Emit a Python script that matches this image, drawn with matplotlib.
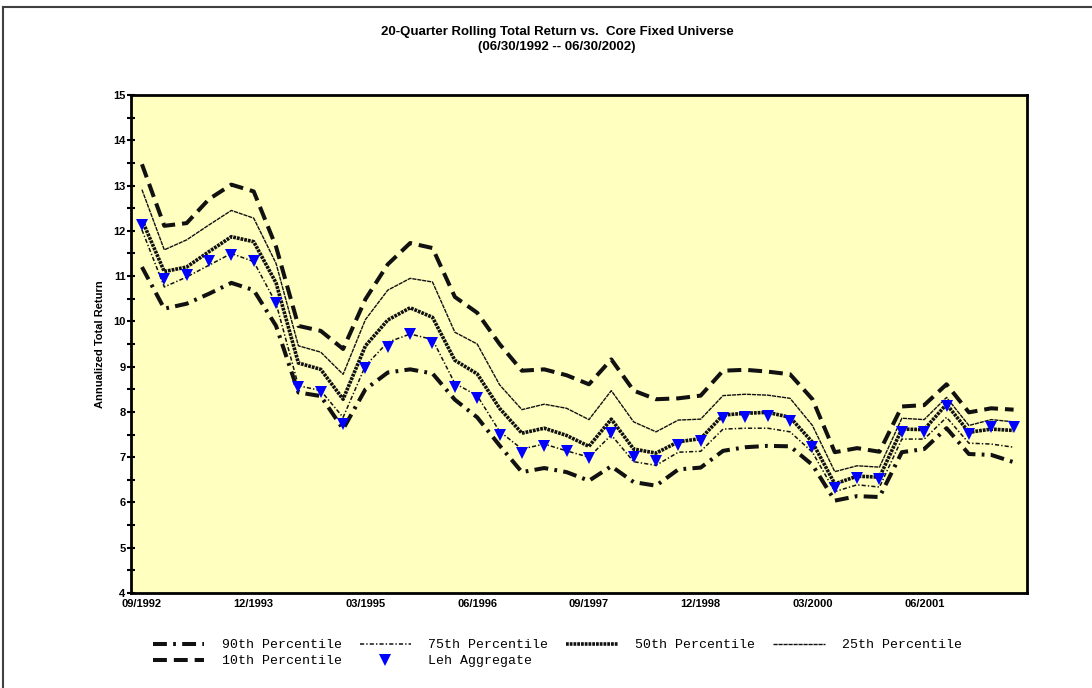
import numpy as np
import matplotlib
matplotlib.use("Agg")
import matplotlib.pyplot as plt
from matplotlib.lines import Line2D
from matplotlib.ticker import MultipleLocator

# Data (quarterly, 09/1992 .. 06/2002)
tick_labels = ["09/1992", "12/1993", "03/1995", "06/1996",
               "09/1997", "12/1998", "03/2000", "06/2001"]

p10 = [13.47, 12.11, 12.17, 12.70, 13.02, 12.87, 11.65, 9.90, 9.79, 9.39,
       10.49, 11.26, 11.73, 11.62, 10.54, 10.19, 9.50, 8.91, 8.94, 8.81,
       8.61, 9.16, 8.47, 8.28, 8.30, 8.36, 8.91, 8.93, 8.89, 8.83,
       8.28, 7.11, 7.20, 7.12, 8.12, 8.15, 8.61, 7.99, 8.08, 8.05]

p25 = [12.91, 11.58, 11.80, 12.13, 12.45, 12.28, 11.28, 9.46, 9.32, 8.83,
       10.04, 10.69, 10.95, 10.87, 9.76, 9.50, 8.60, 8.05, 8.17, 8.08,
       7.83, 8.47, 7.78, 7.56, 7.82, 7.84, 8.36, 8.39, 8.37, 8.30,
       7.70, 6.68, 6.81, 6.78, 7.86, 7.83, 8.32, 7.70, 7.83, 7.78]

p50 = [12.24, 11.10, 11.20, 11.54, 11.87, 11.76, 10.85, 9.08, 8.94, 8.28,
       9.46, 10.03, 10.30, 10.09, 9.14, 8.84, 8.08, 7.53, 7.64, 7.48,
       7.24, 7.84, 7.18, 7.09, 7.34, 7.41, 7.93, 7.97, 7.99, 7.88,
       7.33, 6.41, 6.58, 6.56, 7.62, 7.61, 8.17, 7.55, 7.62, 7.59]

p75 = [12.02, 10.76, 10.98, 11.24, 11.50, 11.32, 10.40, 8.58, 8.47, 7.88,
       9.02, 9.54, 9.72, 9.60, 8.63, 8.36, 7.57, 7.18, 7.29, 7.14,
       7.00, 7.49, 6.90, 6.82, 7.11, 7.13, 7.62, 7.64, 7.64, 7.56,
       7.11, 6.24, 6.39, 6.34, 7.40, 7.40, 7.88, 7.31, 7.29, 7.22]

p90 = [11.20, 10.28, 10.39, 10.61, 10.85, 10.69, 9.90, 8.43, 8.35, 7.62,
       8.50, 8.87, 8.94, 8.85, 8.27, 7.88, 7.26, 6.67, 6.76, 6.67,
       6.48, 6.80, 6.45, 6.37, 6.73, 6.77, 7.14, 7.22, 7.25, 7.24,
       6.83, 6.04, 6.14, 6.12, 7.11, 7.18, 7.64, 7.07, 7.05, 6.89]

leh = [12.13, 10.93, 11.02, 11.33, 11.47, 11.33, 10.41, 8.54, 8.43, 7.73,
       8.96, 9.44, 9.72, 9.53, 8.54, 8.30, 7.50, 7.09, 7.24, 7.14,
       6.98, 7.53, 7.00, 6.92, 7.28, 7.35, 7.86, 7.88, 7.90, 7.81,
       7.22, 6.32, 6.54, 6.52, 7.55, 7.55, 8.14, 7.51, 7.66, 7.66]

plt.rcParams["font.family"] = ["Liberation Sans", "DejaVu Sans"]
plt.rcParams["lines.scale_dashes"] = False

fig = plt.figure(figsize=(10.92, 6.88), dpi=100)
ax = fig.add_axes([131/1092, 1 - 593/688, (1027-131)/1092, (593-95)/688])
ax.set_facecolor("#FFFFC0")

x = np.arange(len(p10))

l90, = ax.plot(x, p90, color="#111111", lw=2.9,
               dashes=(10, 4.5, 2, 4.5), dash_capstyle="butt", label="90th Percentile")
l10, = ax.plot(x, p10, color="#111111", lw=2.9,
               dashes=(10, 5), dash_capstyle="butt", label="10th Percentile")
l75, = ax.plot(x, p75, color="#111111", lw=1.1,
               dashes=(3, 1.5, 1, 1.5), label="75th Percentile")
l50, = ax.plot(x, p50, color="#111111", lw=2.6,
               dashes=(2, 0.7), dash_capstyle="butt", label="50th Percentile")
l25, = ax.plot(x, p25, color="#111111", lw=1.0,
               dashes=(3, 0.6), label="25th Percentile")
lleh, = ax.plot(x, leh, linestyle="none", marker="v", ms=8.5,
                color="#0000FF", markeredgewidth=0, zorder=5, label="Leh Aggregate")

# Axes formatting
ax.set_xlim(-0.49, 39.6)
ax.set_ylim(4, 15)
ax.set_xticks(np.arange(0, 40, 5))
ax.set_xticklabels(tick_labels)
ax.yaxis.set_major_locator(MultipleLocator(1))
ax.yaxis.set_minor_locator(MultipleLocator(0.5))
ax.tick_params(axis="x", length=0, pad=4, labelsize=8)
ax.tick_params(axis="y", which="both", direction="inout", length=6, width=1.5,
               pad=1, labelsize=8)
for lab in ax.get_xticklabels() + ax.get_yticklabels():
    lab.set_fontweight("bold")
for s in ax.spines.values():
    s.set_linewidth(2)

ax.set_ylabel("Annualized Total Return", fontsize=8, fontweight="bold", labelpad=6)

fig.text(0.51, 1 - 32/688, "20-Quarter Rolling Total Return vs.  Core Fixed Universe",
         ha="center", va="center", fontsize=9.5, fontweight="bold")
fig.text(0.51, 1 - 47/688, "(06/30/1992 -- 06/30/2002)",
         ha="center", va="center", fontsize=9.5, fontweight="bold")

# Legend
handles = [l90, l10, l75, lleh, l50, l25]
fig.legend(handles, [h.get_label() for h in handles], ncol=4,
           loc="upper left", bbox_to_anchor=(153/1092, 1 - 639/688),
           frameon=False, prop={"family": "Liberation Mono", "size": 9.5},
           handlelength=3.9, handletextpad=1.3, columnspacing=1.37,
           labelspacing=0.3, borderpad=0, borderaxespad=0)

# Outer frame (top and left edges)
fig.add_artist(Line2D([3/1092, 1], [1 - 7/688, 1 - 7/688], color="#404040", lw=1.5))
fig.add_artist(Line2D([3/1092, 3/1092], [0, 1 - 7/688], color="#404040", lw=1.5))

fig.savefig("out.png", dpi=100)
